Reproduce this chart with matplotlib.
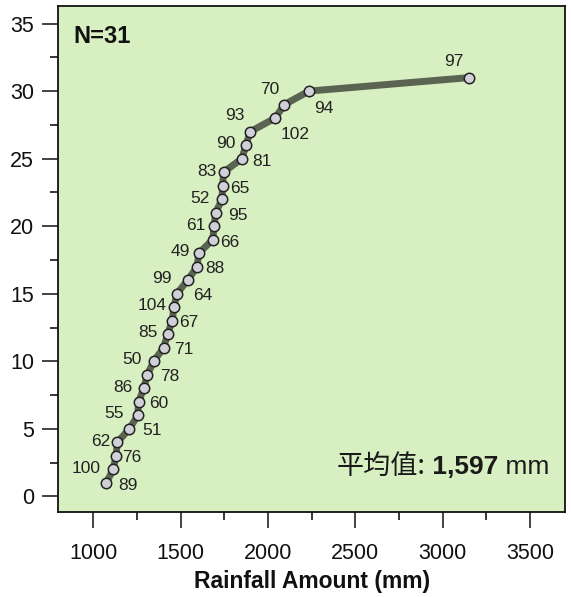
import matplotlib
matplotlib.use("Agg")
import matplotlib.pyplot as plt
from matplotlib.ticker import MultipleLocator

plt.rcParams['font.family'] = ['Liberation Sans', 'DejaVu Sans']

# 累積排名 (1 = 最少雨量)
rank = list(range(1, 32))
# 年雨量 (mm), 由小到大
rainfall = [1075, 1114, 1131, 1138, 1207, 1255, 1260, 1289, 1310, 1346,
            1403, 1426, 1452, 1462, 1479, 1540, 1595, 1604, 1684, 1692,
            1701, 1737, 1741, 1746, 1851, 1874, 1899, 2041, 2094, 2235,
            3152]
# 民國年
years = ['89', '100', '76', '62', '51', '55', '60', '86', '78', '50',
         '71', '85', '67', '104', '64', '99', '88', '49', '66', '61',
         '95', '52', '65', '83', '81', '90', '93', '102', '70', '94',
         '97']
n_years = 31
mean_rain = '1,597'

# label offsets in pixels (dx, dy)
offsets = [(22, -3), (-27, 1), (16, -2), (-17, 1), (23, -2), (-24, 2),
           (20, -2), (-21, 1), (22, -2), (-22, 2), (20, -2), (-20, 2),
           (17, -2), (-22, 2), (26, -2), (-26, 2), (18, -2), (-18, 2),
           (17, -3), (-18, 1), (22, -3), (-22, 1), (17, -3), (-17, 1),
           (20, -3), (-20, 2), (-15, 16), (20, -16), (-15, 15), (15, -17),
           (-15, 16)]

fig = plt.figure(figsize=(5.71, 5.97), dpi=100)
ax = fig.add_axes([0.102, 0.1424, 0.8875, 0.8476])
ax.set_facecolor('#d8efc1')

ax.plot(rainfall, rank, color='#5a6450', lw=5, solid_capstyle='round',
        marker='o', ms=7.5, mfc='#d0d0d8', mec='#222222', mew=1.1, zorder=3)

for x, y, t, (dx, dy) in zip(rainfall, rank, years, offsets):
    ax.annotate(t, (x, y), xytext=(dx, dy), textcoords='offset pixels',
                ha='center', va='center', fontsize=12.5, color='#222222')

ax.set_xlim(800, 3700)
ax.set_ylim(-1.15, 36.3)
ax.xaxis.set_major_locator(MultipleLocator(500))
ax.xaxis.set_minor_locator(MultipleLocator(250))
ax.yaxis.set_major_locator(MultipleLocator(5))
ax.yaxis.set_minor_locator(MultipleLocator(2.5))
ax.tick_params(which='major', direction='out', length=11.5, width=1.1,
               labelsize=15.5, colors='#111111', pad=6)
ax.tick_params(which='minor', direction='out', length=5.8, width=1.1)
ax.tick_params(axis='x', which='major', pad=11)
for s in ax.spines.values():
    s.set_linewidth(1.3)
    s.set_color('#111111')

ax.set_xlabel('Rainfall Amount (mm)', fontsize=16.5, fontweight='bold',
              color='#111111', labelpad=4)

ax.text(0.03, 0.94, 'N=%d' % n_years, transform=ax.transAxes, ha='left',
        va='center', fontsize=17, fontweight='bold', color='#111111')

# 平均值 text, three pieces sharing one baseline
r = fig.canvas.get_renderer()
ax_w = ax.get_window_extent(r).width
xr, yb = 0.97, 0.075
parts = [(' mm', 'normal', ['Liberation Sans'], 19),
         (' ' + mean_rain, 'bold', ['Liberation Sans'], 19),
         ('平均值:', 'normal', ['Noto Sans CJK TC', 'DejaVu Sans'], 19.5)]
for s, w, fam, fs in parts:
    t = ax.text(xr, yb, s, transform=ax.transAxes, ha='right', va='baseline',
                fontsize=fs, fontweight=w, family=fam, color='#1a1a1a')
    xr -= t.get_window_extent(r).width / ax_w

fig.savefig('out.png', dpi=100)
